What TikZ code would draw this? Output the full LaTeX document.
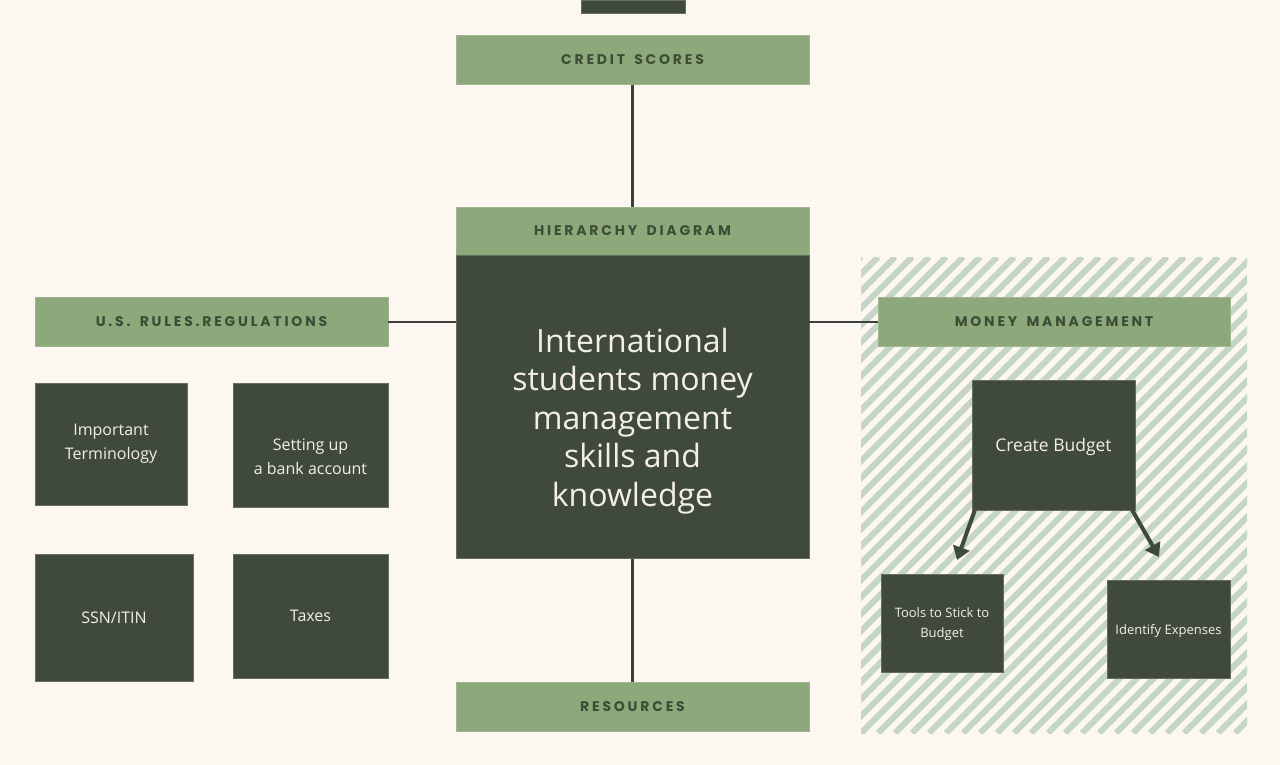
\documentclass[tikz,border=0pt]{standalone}
\usepackage{fontspec}
\usepackage{xcolor}
\usepackage{tikz}
\usetikzlibrary{arrows.meta, positioning}
\setmainfont{Open Sans}
\newfontfamily\capsfont[LetterSpace=20, WordSpace=1.6]{Poppins}
\definecolor{paper}{HTML}{FCF8F1}
\definecolor{forest}{HTML}{404A3A}
\definecolor{sage}{HTML}{8DA87B}
\definecolor{sagetext}{HTML}{3C4D36}
\definecolor{cream}{HTML}{F4EFE6}
\definecolor{wire}{HTML}{3D3F3A}
\definecolor{stripe}{HTML}{C7D4C8}

\begin{document}
\begin{tikzpicture}[
    x=1pt, y=-1pt,
    head/.style={fill=sage, draw=sage!85!white, inner sep=0pt, minimum width=353pt, minimum height=49pt,
      font=\capsfont\bfseries\fontsize{14}{14}\selectfont, text=sagetext},
    blk/.style={fill=forest, draw=forest!80!white, inner sep=2pt, align=center, text=cream,
      font=\fontsize{16}{24}\selectfont},
    txt/.style={align=center, text=cream, inner sep=0pt},
    link/.style={wire, line width=2.2pt},
    arr/.style={-{Triangle[length=13pt, width=17pt]}, forest, line width=4pt}
  ]
    \useasboundingbox (0,0) rectangle (1280,765);
    \fill[paper] (0,0) rectangle (1280,765);
    % striped panel behind money management
    \begin{scope}
      \clip (861,257) rectangle (1247,733);
      \foreach \i in {0,...,52}
        \draw[stripe, line width=6pt] ({385+\i*17},733) -- ++(476,-476);
    \end{scope}
    \node[blk, minimum width=104pt, minimum height=13pt, inner sep=0pt] (top) at (633,6.5) {};
    \node[head] (credit) at (632.5,60) {CREDIT SCORES};
    \node[head, minimum height=48pt] (hier) at (632.5,231) {HIERARCHY DIAGRAM};
    \node[blk, minimum width=353pt, minimum height=303pt, below=0pt of hier] (core) {};
    \node[txt, font=\fontsize{32}{38.5}\selectfont] (coretext) at ([yshift=-14pt]core.center)
      {International\\students money\\management\\skills and\\knowledge};
    \node[head] (rules) at (211.5,322) {U.S. RULES.REGULATIONS};
    \node[head, minimum width=352pt] (money) at (1054,322) {MONEY MANAGEMENT};
    \node[head] (res) at (632.5,707) {RESOURCES};
    % left group
    \node[blk, minimum width=152pt, minimum height=122pt] (term) at (111,444) {Important\\Terminology};
    \node[blk, minimum width=155pt, minimum height=124pt] (bank) at (310.5,445) {};
    \node[txt, font=\fontsize{16}{24}\selectfont] (banktext) at ([yshift=-12pt]bank.center)
      {Setting up\\a bank account};
    \node[blk, minimum width=158pt, minimum height=127pt] (ssn) at (114,617.5) {SSN/ITIN};
    \node[blk, minimum width=155pt, minimum height=124pt] (tax) at (310.5,616) {Taxes};
    % right group
    \node[blk, minimum width=163pt, minimum height=130pt] (budget) at (1053.5,445) {};
    \node[txt, font=\fontsize{17.5}{24}\selectfont] (budgettext) at ([yshift=-2pt]budget.center) {Create Budget};
    \node[blk, minimum width=122pt, minimum height=98pt] (tools) at (942,623) {};
    \node[txt, font=\fontsize{13}{20}\selectfont] (toolstext) at ([yshift=-1pt]tools.center)
      {Tools to Stick to\\Budget};
    \node[blk, minimum width=123pt, minimum height=98pt] (expense) at (1168.5,629) {};
    \node[txt, font=\fontsize{13}{16}\selectfont] (expensetext) at ([yshift=-2pt]expense.center)
      {Identify Expenses};
    \coordinate (tipl) at (957,560);
    \coordinate (tipr) at (1159,557);
    % connectors
    \draw[link] (credit) -- (hier);
    \draw[link] (core) -- (res);
    \draw[link] (rules.east) -- (rules.east -| core.west);
    \draw[link] (money.west -| core.east) -- (money.west);
    \draw[arr] ([xshift=3pt]budget.south west) -- (tipl);
    \draw[arr] ([xshift=-3pt]budget.south east) -- (tipr);
  \end{tikzpicture}
\end{document}
